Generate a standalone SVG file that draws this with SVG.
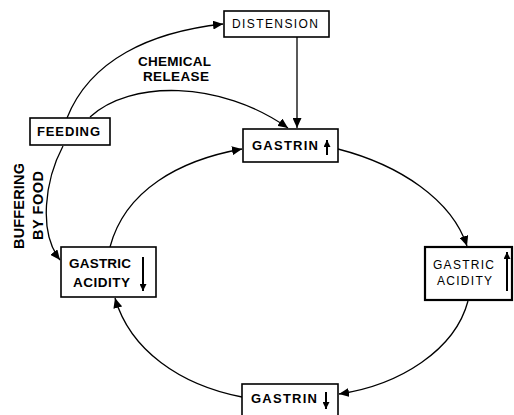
<svg xmlns="http://www.w3.org/2000/svg" width="514" height="415" viewBox="0 0 514 415">
<style>
.box{fill:#fff;stroke:#000;stroke-width:1.6}
.thick{stroke-width:2.2}
.t{font-family:"Liberation Sans",Arial,sans-serif;fill:#000}
.b{font-weight:bold}
.c{fill:none;stroke:#000;stroke-width:1.3}
.ia{fill:none;stroke:#000;stroke-width:2}
</style>
<defs>
<marker id="ah" markerUnits="userSpaceOnUse" markerWidth="11" markerHeight="9" refX="10" refY="4.5" orient="auto" viewBox="0 0 11 9">
<path d="M0,0 L10,4.5 L0,9 z" fill="#000"/>
</marker>
<marker id="sa" markerUnits="userSpaceOnUse" markerWidth="8" markerHeight="7" refX="7" refY="3.5" orient="auto" viewBox="0 0 8 7">
<path d="M0,0 L7,3.5 L0,7 z" fill="#000"/>
</marker>
</defs>
<rect width="514" height="415" fill="#fff"/>
<g id="connectors">
<path class="c" d="M67,118 C 90,60 150,32 223,24" marker-end="url(#ah)"/>
<path class="c" d="M90,117 C 130,80 220,80 288,128" marker-end="url(#ah)"/>
<path class="c" d="M297,37 L297,128" marker-end="url(#ah)"/>
<path class="c" d="M63,146 C 45,180 38,232 60,260" marker-end="url(#ah)"/>
<path class="c" d="M110,247 C 125,190 180,160 242,149" marker-end="url(#ah)"/>
<path class="c" d="M338,149 C 400,165 452,200 467,246" marker-end="url(#ah)"/>
<path class="c" d="M468,301 C 455,350 400,385 339,394" marker-end="url(#ah)"/>
<path class="c" d="M242,397 C 180,385 130,350 115,298" marker-end="url(#ah)"/>
</g>
<g id="distension">
<rect class="box" x="224" y="11" width="105" height="26"/>
<text class="t" x="232" y="28" font-size="12" textLength="86" lengthAdjust="spacing">DISTENSION</text>
</g>
<g id="feeding">
<rect class="box" x="30" y="118" width="80" height="27"/>
<text class="t b" x="37" y="136" font-size="13" textLength="63" lengthAdjust="spacing">FEEDING</text>
</g>
<g id="chemical-release-label">
<text class="t b" x="138" y="66" font-size="13.5" textLength="73" lengthAdjust="spacing">CHEMICAL</text>
<text class="t b" x="143" y="81" font-size="13.5" textLength="66" lengthAdjust="spacing">RELEASE</text>
</g>
<g id="buffering-label">
<text class="t b" font-size="14.5" x="-43" y="0" textLength="86" lengthAdjust="spacing" transform="translate(24,206) rotate(-90)">BUFFERING</text>
<text class="t b" font-size="14.5" x="-34" y="0" textLength="69" lengthAdjust="spacing" transform="translate(43,206) rotate(-90)">BY FOOD</text>
</g>
<g id="gastrin-up">
<rect class="box" x="243" y="129" width="95" height="33"/>
<text class="t b" x="252" y="150" font-size="13" textLength="66" lengthAdjust="spacing">GASTRIN</text>
<path class="ia" d="M327,155 L327,140" marker-end="url(#sa)"/>
</g>
<g id="acidity-down">
<rect class="box" x="61" y="247" width="95" height="50"/>
<text class="t b" x="69" y="268" font-size="13.5" textLength="62" lengthAdjust="spacing">GASTRIC</text>
<text class="t b" x="73" y="287" font-size="13.5" textLength="57" lengthAdjust="spacing">ACIDITY</text>
<path class="ia" d="M143,257 L143,291" marker-end="url(#sa)"/>
</g>
<g id="acidity-up">
<rect class="box thick" x="425" y="247" width="87" height="53"/>
<text class="t" x="433" y="269" font-size="12" textLength="61" lengthAdjust="spacing">GASTRIC</text>
<text class="t" x="437" y="285" font-size="12" textLength="55" lengthAdjust="spacing">ACIDITY</text>
<path class="ia" d="M507,291 L507,252" marker-end="url(#sa)"/>
</g>
<g id="gastrin-down">
<rect class="box" x="242" y="384" width="96" height="40"/>
<text class="t b" x="251" y="403" font-size="13" textLength="66" lengthAdjust="spacing">GASTRIN</text>
<path class="ia" d="M326,392 L326,409" marker-end="url(#sa)"/>
</g>
</svg>
